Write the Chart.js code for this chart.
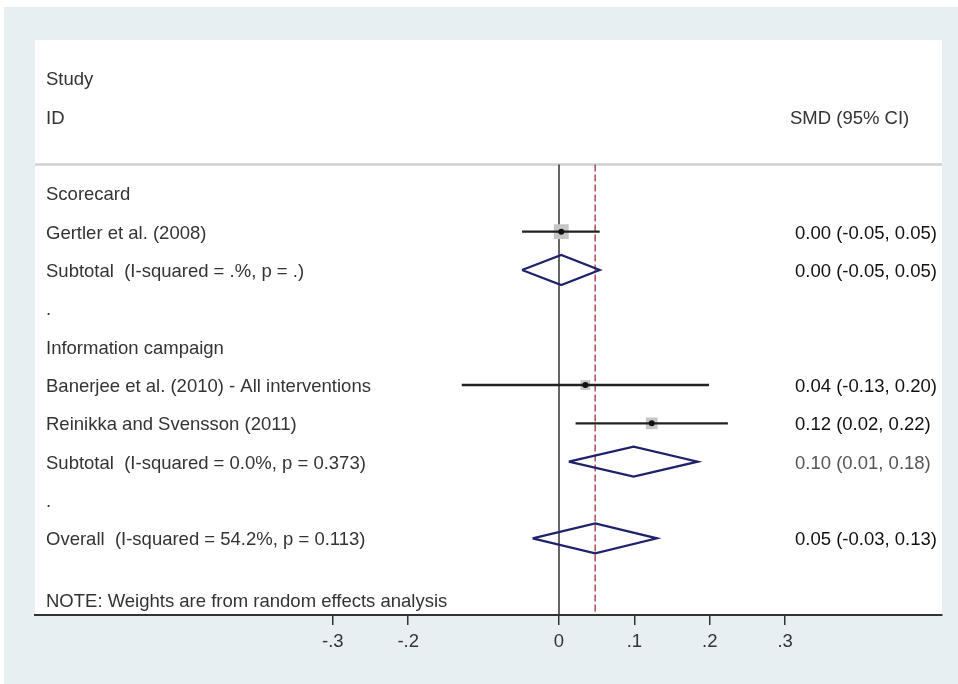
<!DOCTYPE html>
<html>
<head>
<meta charset="utf-8">
<title>Forest plot</title>
<script src="https://cdn.jsdelivr.net/npm/chart.js@4.4.1/dist/chart.umd.min.js"></script>
<style>
  html, body { margin: 0; padding: 0; background: #fff; }
  #wrap { width: 958px; height: 684px; }
</style>
</head>
<body>
<div id="wrap"><canvas id="forest" width="958" height="684"></canvas></div>
<script>
// rows are counted top to bottom, row 0 = "Scorecard"
var ROW_LABELS = [
  "Scorecard",
  "Gertler et al. (2008)",
  "Subtotal  (I-squared = .%, p = .)",
  ".",
  "Information campaign",
  "Banerjee et al. (2010) - All interventions",
  "Reinikka and Svensson (2011)",
  "Subtotal  (I-squared = 0.0%, p = 0.373)",
  ".",
  "Overall  (I-squared = 54.2%, p = 0.113)"
];
var ROW_CI_TEXT = [
  "",
  "0.00 (-0.05, 0.05)",
  "0.00 (-0.05, 0.05)",
  "",
  "",
  "0.04 (-0.13, 0.20)",
  "0.12 (0.02, 0.22)",
  "0.10 (0.01, 0.18)",
  "",
  "0.05 (-0.03, 0.13)"
];

// single studies
var STUDY_ROWS = [1, 5, 6];
var STUDY_EST = [0.003, 0.035, 0.123];
var STUDY_LO = [-0.049, -0.129, 0.022];
var STUDY_HI = [0.054, 0.199, 0.224];
var STUDY_WEIGHT = [49.0, 20.8, 30.2];

// pooled estimates (diamonds): two subtotals + overall
var POOL_ROWS = [2, 7, 9];
var POOL_EST = [0.003, 0.099, 0.048];
var POOL_LO = [-0.049, 0.013, -0.035];
var POOL_HI = [0.054, 0.184, 0.130];

var X_TICKS = [-0.3, -0.2, 0, 0.1, 0.2, 0.3];
var X_TICK_LABELS = ["-.3", "-.2", "0", ".1", ".2", ".3"];

var HEADER_LEFT = ["Study", "ID"];
var HEADER_RIGHT = "SMD (95% CI)";
var NOTE_TEXT = "NOTE: Weights are from random effects analysis";

// layout bits
var X_MIN = -0.695, X_MAX = 0.508;
var Y_MIN = -4, Y_MAX = 11;
var HEADER_ROWS = [-3, -2];
var HEADER_RULE = -0.75;
var NOTE_ROW = 10.6;
var DIAMOND_HALF = 0.39;
var TEXT_NUDGE = 2;
var FONT = "18.5px 'Liberation Sans', Arial, sans-serif";

function lineSet(points, color, width, order, dash) {
  return {
    type: "line",
    data: points,
    borderColor: color,
    borderWidth: width,
    borderDash: dash || [],
    pointRadius: 0,
    fill: false,
    tension: 0,
    order: order
  };
}

var datasets = [];

// rule under the header
datasets.push(lineSet([{ x: X_MIN, y: HEADER_RULE }, { x: X_MAX, y: HEADER_RULE }], "#d0d0d0", 2.5, 20));
// null line and overall-effect line
datasets.push(lineSet([{ x: 0, y: HEADER_RULE }, { x: 0, y: Y_MAX }], "#333333", 1.5, 15));
datasets.push(lineSet([{ x: POOL_EST[2], y: HEADER_RULE }, { x: POOL_EST[2], y: Y_MAX }], "#ad5764", 1.6, 14, [7, 3]));

// weight boxes
datasets.push({
  type: "scatter",
  data: STUDY_ROWS.map(function (r, i) { return { x: STUDY_EST[i], y: r }; }),
  pointStyle: "rect",
  pointRadius: STUDY_WEIGHT.map(function (w) { return Math.sqrt(w) * 1.5; }),
  backgroundColor: "#c6c6c6",
  borderWidth: 0,
  order: 12
});

// confidence intervals
STUDY_ROWS.forEach(function (r, i) {
  datasets.push(lineSet([{ x: STUDY_LO[i], y: r }, { x: STUDY_HI[i], y: r }], "#222222", 2.4, 8));
});

// point estimates
datasets.push({
  type: "scatter",
  data: STUDY_ROWS.map(function (r, i) { return { x: STUDY_EST[i], y: r }; }),
  pointStyle: "circle",
  pointRadius: 3,
  backgroundColor: "#111111",
  borderWidth: 0,
  order: 1
});

// diamonds
POOL_ROWS.forEach(function (r, i) {
  datasets.push(lineSet([
    { x: POOL_LO[i], y: r },
    { x: POOL_EST[i], y: r - DIAMOND_HALF },
    { x: POOL_HI[i], y: r },
    { x: POOL_EST[i], y: r + DIAMOND_HALF },
    { x: POOL_LO[i], y: r }
  ], "#1f226b", 2.2, 5));
});

var bgPlugin = {
  id: "bg",
  beforeDraw: function (chart) {
    var ctx = chart.ctx, a = chart.chartArea;
    ctx.save();
    ctx.fillStyle = "#ffffff";
    ctx.fillRect(0, 0, chart.width, chart.height);
    ctx.fillStyle = "#e8eff2";
    ctx.fillRect(4, 7, chart.width - 4, chart.height - 7);
    ctx.fillStyle = "#ffffff";
    ctx.fillRect(a.left, a.top, a.right - a.left, a.bottom - a.top);
    ctx.restore();
  }
};

var textPlugin = {
  id: "forestText",
  afterDraw: function (chart) {
    var ctx = chart.ctx, ys = chart.scales.y, a = chart.chartArea;
    var leftX = a.left + 11;
    var rightX = a.right - 147;
    function py(v) { return ys.getPixelForValue(v) + TEXT_NUDGE; }
    ctx.save();
    ctx.font = FONT;
    ctx.textBaseline = "middle";
    ctx.textAlign = "left";
    ctx.fillStyle = "#333333";
    HEADER_LEFT.forEach(function (t, i) {
      ctx.fillText(t, leftX, py(HEADER_ROWS[i]));
    });
    ctx.fillText(HEADER_RIGHT, rightX - 5, py(HEADER_ROWS[1]));
    ROW_LABELS.forEach(function (t, i) {
      ctx.fillText(t, leftX, py(i));
    });
    ROW_CI_TEXT.forEach(function (t, i) {
      if (!t) return;
      ctx.fillStyle = i === 7 ? "#555555" : "#111111";
      ctx.fillText(t, rightX, py(i));
    });
    ctx.fillStyle = "#333333";
    ctx.fillText(NOTE_TEXT, leftX, py(NOTE_ROW));
    ctx.restore();
  }
};

new Chart(document.getElementById("forest").getContext("2d"), {
  type: "scatter",
  data: { datasets: datasets },
  options: {
    responsive: false,
    animation: false,
    events: [],
    layout: { padding: { left: 35, right: 16, top: 40, bottom: 0 } },
    plugins: { legend: { display: false }, tooltip: { enabled: false } },
    scales: {
      x: {
        type: "linear",
        min: X_MIN,
        max: X_MAX,
        afterBuildTicks: function (s) {
          s.ticks = X_TICKS.map(function (v) { return { value: v }; });
        },
        afterFit: function (s) { s.height = 69; },
        ticks: {
          autoSkip: false,
          maxRotation: 0,
          padding: 6,
          color: "#333333",
          font: { family: "'Liberation Sans', Arial, sans-serif", size: 18.5 },
          callback: function (v, i) { return X_TICK_LABELS[i]; }
        },
        grid: { drawOnChartArea: false, drawTicks: true, tickLength: 10, color: "#333333", lineWidth: 1.5 },
        border: { display: true, color: "#333333", width: 2 }
      },
      y: { type: "linear", reverse: true, min: Y_MIN, max: Y_MAX, display: false }
    }
  },
  plugins: [bgPlugin, textPlugin]
});
</script>
</body>
</html>
